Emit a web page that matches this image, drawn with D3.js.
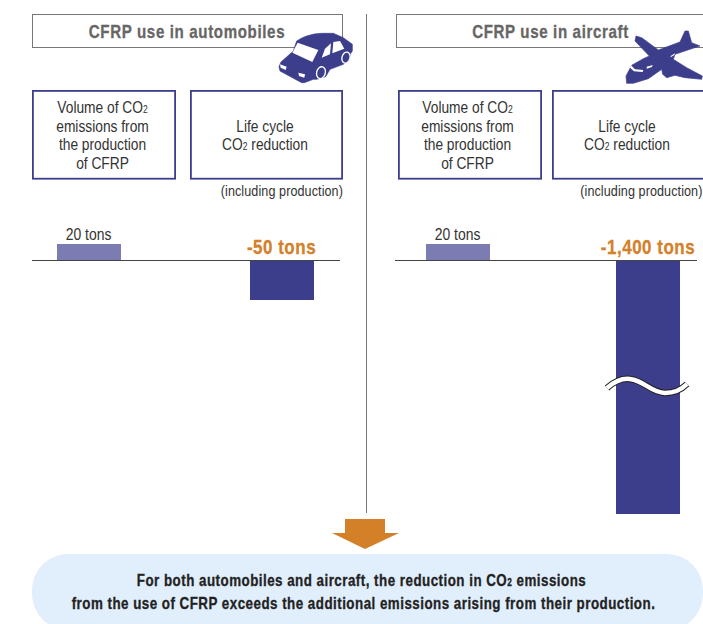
<!DOCTYPE html>
<html>
<head>
<meta charset="utf-8">
<script src="https://cdnjs.cloudflare.com/ajax/libs/d3/7.8.5/d3.min.js"></script>
<style>
  html, body { margin: 0; padding: 0; background: #fff; overflow: hidden; }
  text { font-family: "Liberation Sans", Arimo, sans-serif; }
</style>
</head>
<body>
<svg id="chart" width="703" height="624"></svg>
<script>
// Values in tons of CO2
const panels = ["CFRP use in automobiles", "CFRP use in aircraft"];
const productionValues = [20, 20];
const reductionValues = [-50, -1400];
const productionLabels = ["20 tons", "20 tons"];
const reductionLabels = ["-50 tons", "-1,400 tons"];
const productionHeader = [["Volume of CO", "2", ""], ["emissions from"], ["the production"], ["of CFRP"]];
const reductionHeader = [["Life cycle"], ["CO", "2", " reduction"]];
const footnote = "(including production)";
const conclusion = [
  ["For both automobiles and aircraft, the reduction in CO", "2", " emissions"],
  ["from the use of CFRP exceeds the additional emissions arising from their production."]
];

const navy = "#3c3e8c", lilac = "#7c7cb2", orange = "#d38029", ink = "#333", grey = "#666";
const svg = d3.select("#chart");

// The value axis is broken below -160 tons, hence the extra segment
const y = d3.scaleLinear().domain([20, 0, -160, -1400]).range([244, 260, 388, 514]);

// Panel geometry, one entry per panel
const frames = [
  { title: [32, 342], prod: [32, 176], red: [190, 343], base: [32, 340],
    prodBar: [57, 121], redBar: [250, 314], titleX: 187, prodX: 102.5, redX: 265, noteX: 343 },
  { title: [396, 712], prod: [398, 542], red: [552, 712], base: [395, 697],
    prodBar: [426, 490], redBar: [616, 680], titleX: 550.5, prodX: 467.5, redX: 627, noteX: 702.5 }
];

// Draws a condensed line of text; an optional second part becomes a small subscript
function label(parent, parts, x, yPos, size, opts = {}) {
  const t = parent.append("text")
    .attr("transform", `translate(${x},${yPos}) scale(${opts.squeeze || 0.81},1)`)
    .attr("text-anchor", opts.anchor || "middle")
    .attr("font-size", size)
    .attr("font-weight", opts.weight || "normal")
    .attr("letter-spacing", opts.spacing || 0)
    .attr("fill", opts.fill || ink);
  if (opts.weight === "bold") {
    // A hairline outline gives the narrowed bold its full weight back
    t.attr("stroke", opts.fill || ink).attr("stroke-width", 0.3);
  }
  parts.forEach((p, i) => {
    t.append("tspan").attr("font-size", i === 1 ? size * 0.62 : size).text(p);
  });
  return t;
}

frames.forEach((f, i) => {
  const g = svg.append("g");

  // Title bar
  g.append("rect").attr("x", f.title[0] + 0.5).attr("y", 14.5)
    .attr("width", f.title[1] - f.title[0]).attr("height", 33)
    .attr("fill", "#fff").attr("stroke", "#777").attr("stroke-width", 1);
  label(g, [panels[i]], f.titleX, 38, 18,
    { weight: "bold", spacing: 0.75, fill: grey, squeeze: 0.84 });

  // Column headers
  [f.prod, f.red].forEach(b => {
    g.append("rect").attr("x", b[0] + 0.9).attr("y", 90.9)
      .attr("width", b[1] - b[0] - 1.8).attr("height", 87.8)
      .attr("fill", "#fff").attr("stroke", navy).attr("stroke-width", 1.8);
  });
  productionHeader.forEach((parts, k) => {
    label(g, parts, f.prodX, 113 + k * 18.7, 17);
  });
  reductionHeader.forEach((parts, k) => {
    label(g, parts, f.redX, 132 + k * 18, 17);
  });
  label(g, [footnote], f.noteX, 196, 15, { anchor: "end", spacing: 0.1, squeeze: 0.84 });

  // Bars, positive above the baseline and negative below
  g.append("rect").attr("x", f.prodBar[0]).attr("width", f.prodBar[1] - f.prodBar[0])
    .attr("y", y(productionValues[i])).attr("height", y(0) - y(productionValues[i]))
    .attr("fill", lilac);
  g.append("rect").attr("x", f.redBar[0]).attr("width", f.redBar[1] - f.redBar[0])
    .attr("y", y(0)).attr("height", y(reductionValues[i]) - y(0))
    .attr("fill", navy);

  // Baseline
  g.append("line").attr("x1", f.base[0]).attr("x2", f.base[1])
    .attr("y1", y(0) + 0.5).attr("y2", y(0) + 0.5)
    .attr("stroke", "#444").attr("stroke-width", 1);

  // Value labels
  label(g, [productionLabels[i]], (f.prodBar[0] + f.prodBar[1]) / 2 - 0.5, 240, 17, { squeeze: 0.82 });
  label(g, [reductionLabels[i]], i === 0 ? 281.5 : 648, 254, 20,
    { weight: "bold", spacing: 0.6, fill: orange, squeeze: 0.85 });
});

// Axis-break mark across the tall bar
const breakCurve = "M607,388 C615,381 622,378 630,379 C645,381 650,392 665,393 C675,393 682,389 687,384";
svg.append("path").attr("d", breakCurve)
  .attr("fill", "none").attr("stroke", "#222").attr("stroke-width", 6.5);
svg.append("path").attr("d", breakCurve)
  .attr("fill", "none").attr("stroke", "#fff").attr("stroke-width", 4.5);

// Divider between the two panels
svg.append("line").attr("x1", 366.5).attr("x2", 366.5).attr("y1", 14).attr("y2", 513)
  .attr("stroke", "#777").attr("stroke-width", 1);

// Car pictogram
const car = svg.append("g").attr("transform", "translate(275,26) scale(0.3333)");
car.append("path").attr("fill", navy).attr("stroke", navy).attr("stroke-width", 2).attr("stroke-linejoin", "round").attr("d",
  "M12,122 L18,108 L55,75 L65,45 Q80,35 95,30 Q118,22 140,22 L175,22 L205,35 L232,55 L232,75 L226,84 L222,104 L205,115 L165,130 L152,152 L125,160 L115,160 L88,170 L80,170 L15,135 Z");
car.append("path").attr("fill", "#fff").attr("d", "M68,50 L130,72 L112,108 L52,80 Z");
car.append("path").attr("fill", "#fff").attr("d", "M140,95 L150,68 L168,52 L165,85 Z");
car.append("path").attr("fill", "#fff").attr("d", "M175,48 L195,45 L208,68 L172,82 Z");
car.append("path").attr("fill", "#fff").attr("d", "M15,115 L35,122 L32,132 L17,125 Z");
car.append("path").attr("fill", "#fff").attr("d", "M70,140 L90,145 L88,155 L72,150 Z");
[[138, 140, 13, 18], [213, 95, 12, 17]].forEach(w => {
  car.append("ellipse").attr("cx", w[0]).attr("cy", w[1]).attr("rx", w[2]).attr("ry", w[3])
    .attr("transform", `rotate(15 ${w[0]} ${w[1]})`)
    .attr("fill", navy).attr("stroke", "#fff").attr("stroke-width", 4);
});

// Airplane pictogram
const plane = svg.append("g").attr("transform", "translate(620,26) scale(0.3333)");
plane.append("path").attr("fill", navy).attr("stroke", navy).attr("stroke-width", 2).attr("stroke-linejoin", "round").attr("d",
  "M20,172 L18,150 L35,118 L70,98 L88,90 L45,45 L48,30 L65,35 L115,72 L180,48 L195,15 L205,15 L215,50 L240,60 L215,68 L165,85 L160,100 L200,125 L247,150 L245,160 L195,155 L165,148 L140,155 L128,145 L125,130 L85,158 L40,172 Z");
plane.append("path").attr("fill", "#fff").attr("d", "M33,118 L45,130 L70,132 L68,138 L42,136 L30,125 Z");
plane.append("path").attr("fill", "#fff").attr("d", "M80,122 L98,117 L96,123 L80,128 Z");
plane.append("path").attr("fill", "#fff").attr("d", "M152,90 L165,82 L163,87 L152,94 Z");

// Arrow leading to the conclusion
svg.append("path").attr("fill", orange)
  .attr("d", "M345,519 H385 V533 H399 L365,549 L332,533 H345 Z");

// Conclusion panel
svg.append("rect").attr("x", 32).attr("y", 554).attr("width", 671).attr("height", 76)
  .attr("rx", 36).attr("ry", 36).attr("fill", "#e1eefb");
conclusion.forEach((parts, k) => {
  label(svg, parts, k === 0 ? 361.5 : 363.5, 586 + k * 23, 16.5,
    { weight: "bold", spacing: 0.6, fill: "#222" });
});
</script>
</body>
</html>
